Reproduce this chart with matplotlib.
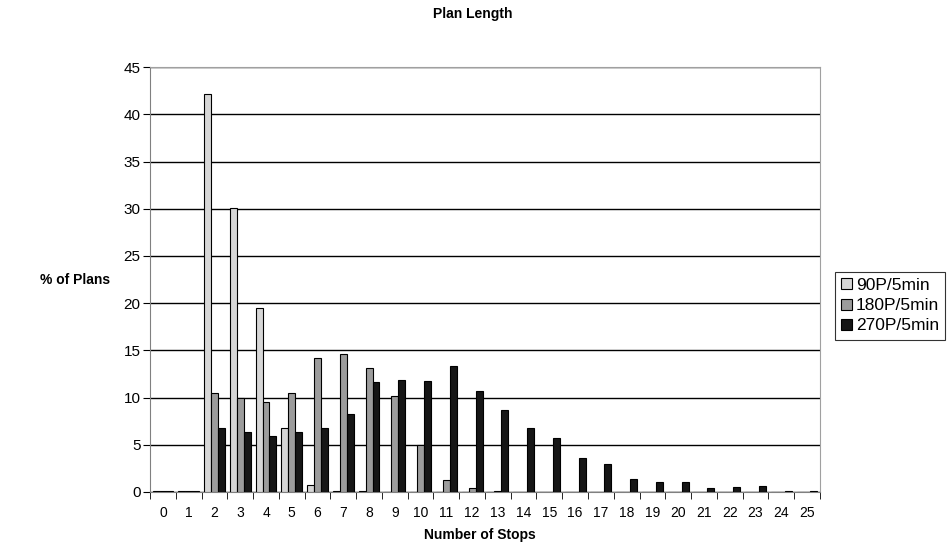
import numpy as np
import matplotlib
matplotlib.use("Agg")
import matplotlib.pyplot as plt

plt.rcParams['font.family'] = ['Liberation Sans', 'DejaVu Sans']

# data
stops = list(range(26))
p90 = [0.05, 0.05, 42.2, 30.1, 19.5, 6.8, 0.7, 0.1, 0.05, 0, 0, 0, 0, 0,
       0, 0, 0, 0, 0, 0, 0, 0, 0, 0, 0, 0]
p180 = [0.05, 0.05, 10.5, 10.0, 9.5, 10.5, 14.2, 14.6, 13.1, 10.2, 5.0, 1.3,
        0.4, 0.05, 0, 0, 0, 0, 0, 0, 0, 0, 0, 0, 0, 0]
p270 = [0.1, 0.1, 6.8, 6.3, 5.9, 6.4, 6.8, 8.3, 11.7, 11.9, 11.8, 13.3, 10.65,
        8.7, 6.75, 5.7, 3.6, 2.95, 1.4, 1.1, 1.1, 0.45, 0.55, 0.6, 0.1, 0.05]
series_names = ['90P/5min', '180P/5min', '270P/5min']
colors = ['#d6d6d6', '#9c9c9c', '#161616']

fig = plt.figure(figsize=(9.5, 5.46), dpi=100)
ax = fig.add_axes([0.158, 0.099, 0.705, 0.778])

x = np.arange(len(stops))
w = 0.27
for i, (vals, name, c) in enumerate(zip([p90, p180, p270], series_names, colors)):
    ax.bar(x + (i - 1) * w, vals, width=w, color=c, edgecolor='black',
           linewidth=0.8, label=name, zorder=3)

ax.set_ylim(0, 45)
ax.set_xlim(-0.5, len(stops) - 0.5)
ax.set_yticks(np.arange(0, 46, 5))
ax.yaxis.grid(True, color='black', linewidth=1.0, zorder=0)
ax.set_xticks(x)
ax.set_xticklabels([str(s) for s in stops], fontsize=10)
ax.set_xticks(np.arange(-0.5, len(stops), 1), minor=True)
ax.tick_params(axis='x', which='major', length=0, pad=10)
ax.tick_params(axis='x', which='minor', length=5, direction='out')
ax.tick_params(axis='y', labelsize=11, length=5, direction='out', pad=2)
for s in ['left', 'bottom']:
    ax.spines[s].set_color('#808080')
for s in ['top', 'right']:
    ax.spines[s].set_color('#a0a0a0')

fig.text(0.498, 0.975, 'Plan Length', ha='center', va='center',
         fontsize=10, fontweight='bold')
fig.text(0.079, 0.488, '% of Plans', ha='center', va='center',
         fontsize=10, fontweight='bold')
fig.text(0.505, 0.02, 'Number of Stops', ha='center', va='center',
         fontsize=10, fontweight='bold')

leg = fig.legend(loc='center left', bbox_to_anchor=(0.879, 0.44),
                 fontsize=12.5, frameon=True, fancybox=False, edgecolor='black',
                 handlelength=0.6, handleheight=0.6, handletextpad=0.25,
                 borderpad=0.35, labelspacing=0.3, borderaxespad=0)
leg.get_frame().set_linewidth(0.8)

fig.savefig('out.png', dpi=100)
